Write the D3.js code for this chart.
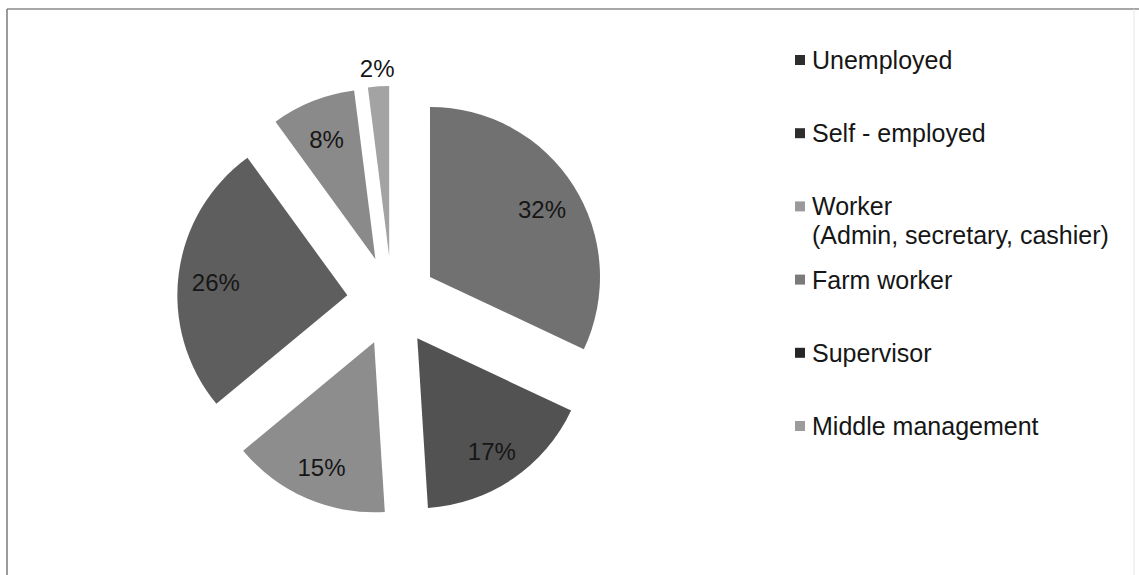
<!DOCTYPE html>
<html>
<head>
<meta charset="utf-8">
<script src="https://cdn.jsdelivr.net/npm/d3@7/dist/d3.min.js"></script>
<style>
  html, body { margin: 0; padding: 0; background: #fff; }
  svg { display: block; }
  text { font-family: "Liberation Sans", Arial, sans-serif; fill: #161616; }
</style>
</head>
<body>
<svg id="chart" width="1139" height="575"></svg>
<script>
// Occupation categories, in drawing order (clockwise from 12 o'clock)
const categories = [
  "Unemployed",
  "Self - employed",
  "Worker\n(Admin, secretary, cashier)",
  "Farm worker",
  "Supervisor",
  "Middle management"
];
// Share of respondents, percent
const shares = [32, 17, 15, 26, 8, 2];
// Slice fills and legend key fills
const sliceColors = ["#717171", "#525252", "#8d8d8d", "#5e5e5e", "#8a8a8a", "#a3a3a3"];
const keyColors   = ["#2e2e2e", "#2e2e2e", "#9a9a9a", "#7a7a7a", "#262626", "#9c9c9c"];

const svg = d3.select("#chart");
const W = 1139, H = 575;

// Frame
svg.append("line").attr("x1", 7).attr("y1", 9).attr("x2", W).attr("y2", 9)
  .attr("stroke", "#8a8a8a").attr("stroke-width", 1.5);
svg.append("line").attr("x1", 7).attr("y1", 9).attr("x2", 7).attr("y2", H)
  .attr("stroke", "#7a7a7a").attr("stroke-width", 1.5);
svg.append("line").attr("x1", 1134).attr("y1", 9).attr("x2", 1134).attr("y2", H)
  .attr("stroke", "#e6e6e6").attr("stroke-width", 1);

// Exploded pie
const cx = 392, cy = 301, R = 170, explode = 45;
const data = categories.map((c, i) => ({ name: c, value: shares[i], color: sliceColors[i] }));
const pie = d3.pie().sort(null).value(d => d.value).startAngle(0).endAngle(2 * Math.PI);
const arcs = pie(data);
const arc = d3.arc().innerRadius(0).outerRadius(R);
const labelArc = d3.arc().innerRadius(R * 0.78).outerRadius(R * 0.78);
const outerLabelArc = d3.arc().innerRadius(R + 21).outerRadius(R + 21);

function offset(d) {
  const a = (d.startAngle + d.endAngle) / 2;
  return [explode * Math.sin(a), -explode * Math.cos(a)];
}

const g = svg.append("g").attr("transform", `translate(${cx},${cy})`);
const slices = g.selectAll("g.slice").data(arcs).join("g")
  .attr("class", "slice")
  .attr("transform", d => { const o = offset(d); return `translate(${o[0]},${o[1]})`; });

slices.append("path")
  .attr("d", arc)
  .attr("fill", d => d.data.color);

slices.append("text")
  .attr("transform", d => {
    const p = d.data.value < 5 ? outerLabelArc.centroid(d) : labelArc.centroid(d);
    return `translate(${p[0]},${p[1]})`;
  })
  .attr("text-anchor", "middle")
  .attr("dy", "0.5em")
  .attr("font-size", 24)
  .text(d => d.data.value + "%");

// Legend
const legend = svg.append("g").attr("transform", "translate(795,69)");
const step = 73.2;
const items = legend.selectAll("g").data(data).join("g")
  .attr("transform", (d, i) => `translate(0,${i * step})`);
items.append("rect")
  .attr("x", 0).attr("y", -14).attr("width", 10).attr("height", 10)
  .attr("fill", (d, i) => keyColors[i]);
items.append("text")
  .attr("x", 17)
  .attr("font-size", 25)
  .each(function(d) {
    const lines = d.name.split("\n");
    const t = d3.select(this);
    lines.forEach((l, j) => {
      t.append("tspan").attr("x", 17).attr("dy", j === 0 ? 0 : 29).text(l);
    });
  });
</script>
</body>
</html>
